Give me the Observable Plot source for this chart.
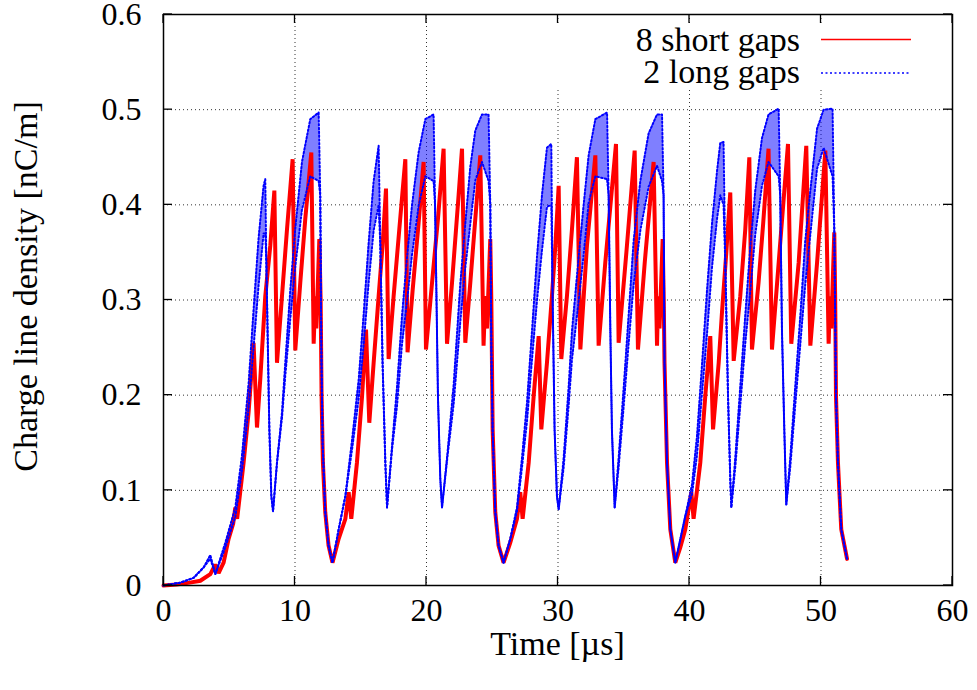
<!DOCTYPE html>
<html><head><meta charset="utf-8">
<script src="https://cdn.jsdelivr.net/npm/d3@7"></script>
<script src="https://cdn.jsdelivr.net/npm/@observablehq/plot@0.6"></script>
<style>body{margin:0;background:#fff} svg text{font-family:"Liberation Serif","Times New Roman",serif}</style>
</head><body><div id="chart"></div>
<script>
const xTicks = [0, 10, 20, 30, 40, 50, 60];
const yTicks = [0, 0.1, 0.2, 0.3, 0.4, 0.5, 0.6];
const yTickLabels = ["0", "0.1", "0.2", "0.3", "0.4", "0.5", "0.6"];
const seriesNames = ["8 short gaps", "2 long gaps"];
const xTitle = "Time [µs]";
const yTitle = "Charge line density [nC/m]";

// 8 short gaps (red)
const redT = [0,1.0,2.0,2.8,3.56,3.94,4.19,4.57,4.95,5.3,5.46,5.6,6.09,6.47,6.75,6.85,7.11,7.36,7.74,8.12,8.43,8.63,9.01,9.39,9.82,10.02,10.4,10.78,11.24,11.42,11.54,11.62,11.85,11.95,12.02,12.12,12.3,12.55,12.85,
13.32,13.83,14.08,14.28,14.71,15.1,15.4,15.65,15.98,16.36,16.66,16.92,17.12,17.5,17.93,18.39,18.56,18.95,19.4,19.78,19.96,20.42,20.87,21.3,21.56,21.94,22.44,22.7,22.95,23.33,23.71,24.09,24.34,24.47,24.6,24.85,24.93,25.03,25.23,25.48,25.86,
26.37,26.88,27.13,27.31,27.77,28.15,28.53,28.73,29.16,29.54,29.8,30.05,30.25,30.68,31.06,31.44,31.7,32.2,32.84,33.09,33.6,34.41,34.61,35.2,35.83,36.08,36.6,37.27,37.53,37.62,37.72,37.96,38.04,38.1,38.29,38.54,38.92,
39.3,39.68,40.14,40.31,40.82,41.2,41.58,41.79,42.22,42.47,42.8,43.1,43.36,43.86,44.24,44.55,44.75,45.25,45.6,46.01,46.27,46.78,47.49,47.74,48.3,48.88,49.19,49.7,50.33,50.58,50.68,50.78,51.01,51.08,51.14,51.29,51.54,51.98];
const redV = [0,0.001,0.003,0.005,0.012,0.022,0.013,0.024,0.049,0.065,0.082,0.07,0.129,0.182,0.235,0.255,0.166,0.217,0.304,0.357,0.415,0.234,0.304,0.374,0.448,0.247,0.318,0.385,0.455,0.254,0.304,0.27,0.364,0.30,0.2,0.13,0.077,0.042,0.024,
0.049,0.07,0.098,0.07,0.129,0.199,0.269,0.171,0.234,0.304,0.357,0.417,0.238,0.304,0.374,0.448,0.245,0.311,0.381,0.445,0.248,0.318,0.385,0.459,0.254,0.318,0.41,0.459,0.255,0.318,0.385,0.452,0.252,0.304,0.27,0.364,0.30,0.164,0.077,0.042,0.024,
0.045,0.07,0.098,0.07,0.129,0.199,0.262,0.164,0.234,0.304,0.357,0.42,0.238,0.304,0.374,0.45,0.248,0.357,0.452,0.252,0.34,0.464,0.255,0.35,0.457,0.248,0.34,0.445,0.252,0.304,0.27,0.364,0.30,0.234,0.129,0.059,0.024,
0.04,0.059,0.098,0.07,0.129,0.199,0.262,0.164,0.234,0.287,0.35,0.413,0.236,0.304,0.374,0.45,0.248,0.318,0.38,0.459,0.248,0.339,0.464,0.254,0.339,0.462,0.252,0.339,0.457,0.254,0.304,0.27,0.371,0.30,0.199,0.129,0.059,0.028];

// 2 long gaps (blue): upper and lower edge of the oscillation band
const blueT = [0,1.28,2.29,3.05,3.56,3.94,4.7,5.46,5.97,6.47,6.85,7.23,7.61,7.74,7.82,8.05,8.2,8.33,8.63,9.01,9.26,9.64,10.02,10.53,11.16,11.8,11.92,12.0,12.1,12.3,12.55,12.85,
13.32,13.83,14.33,14.84,15.22,15.6,15.98,16.36,16.49,16.66,16.87,17.0,17.38,17.76,18.14,18.52,18.9,19.4,19.91,20.54,20.65,20.72,20.87,21.05,21.18,21.6,22.06,22.57,22.95,23.33,23.71,24.22,24.72,24.85,24.93,25.03,25.23,25.48,25.86,
26.37,26.88,27.26,27.64,28.02,28.4,28.78,29.16,29.49,29.59,29.74,29.92,30.05,30.43,30.81,31.06,31.57,31.95,32.33,32.84,33.73,33.85,33.98,34.1,34.31,34.61,35.0,35.37,35.75,36.26,36.89,37.53,37.91,38.03,38.1,38.29,38.54,38.92,
39.68,40.19,40.57,40.95,41.33,41.71,42.09,42.34,42.59,42.72,42.93,43.1,43.18,43.48,43.86,44.24,44.62,45.0,45.51,46.01,46.78,46.9,47.03,47.21,47.36,47.66,48.04,48.43,48.8,49.19,49.7,50.2,50.88,51.01,51.14,51.29,51.54,51.98];
const blueHi = [0,0.003,0.008,0.019,0.032,0.012,0.045,0.082,0.137,0.212,0.29,0.365,0.42,0.427,0.34,0.164,0.094,0.078,0.129,0.182,0.234,0.31,0.375,0.445,0.49,0.497,0.41,0.25,0.15,0.077,0.042,0.024,
0.059,0.094,0.152,0.216,0.285,0.36,0.425,0.462,0.357,0.234,0.129,0.082,0.147,0.209,0.284,0.345,0.40,0.455,0.49,0.495,0.40,0.339,0.199,0.112,0.082,0.14,0.21,0.317,0.38,0.44,0.478,0.495,0.495,0.40,0.25,0.164,0.077,0.042,0.024,
0.049,0.082,0.134,0.192,0.267,0.345,0.41,0.46,0.464,0.304,0.164,0.094,0.08,0.134,0.209,0.267,0.345,0.40,0.452,0.49,0.497,0.41,0.269,0.164,0.082,0.134,0.209,0.284,0.362,0.425,0.475,0.495,0.495,0.41,0.234,0.129,0.059,0.024,
0.073,0.106,0.157,0.232,0.31,0.38,0.435,0.465,0.466,0.339,0.199,0.112,0.082,0.134,0.209,0.284,0.355,0.415,0.47,0.495,0.501,0.41,0.269,0.164,0.085,0.134,0.209,0.284,0.362,0.415,0.48,0.50,0.501,0.374,0.199,0.129,0.059,0.028];
const blueLo = [0,0.003,0.008,0.019,0.028,0.012,0.04,0.072,0.121,0.186,0.25,0.315,0.37,0.37,0.34,0.164,0.094,0.078,0.129,0.176,0.22,0.28,0.335,0.395,0.43,0.425,0.41,0.25,0.15,0.077,0.042,0.024,
0.059,0.094,0.142,0.196,0.253,0.318,0.373,0.40,0.357,0.234,0.129,0.082,0.143,0.189,0.254,0.299,0.348,0.399,0.43,0.425,0.40,0.339,0.199,0.112,0.082,0.136,0.19,0.277,0.334,0.38,0.426,0.445,0.425,0.40,0.25,0.164,0.077,0.042,0.024,
0.049,0.078,0.124,0.172,0.237,0.299,0.352,0.398,0.40,0.304,0.164,0.094,0.08,0.124,0.189,0.237,0.299,0.348,0.402,0.43,0.427,0.41,0.269,0.164,0.082,0.124,0.189,0.254,0.316,0.373,0.419,0.441,0.425,0.41,0.234,0.129,0.059,0.024,
0.073,0.096,0.137,0.202,0.264,0.334,0.385,0.41,0.40,0.339,0.199,0.112,0.082,0.124,0.189,0.254,0.309,0.369,0.42,0.445,0.43,0.41,0.269,0.164,0.085,0.124,0.189,0.254,0.316,0.369,0.438,0.46,0.43,0.374,0.199,0.129,0.059,0.028];

const red = redT.map((t, i) => ({t, v: redV[i]}));
const blue = blueT.map((t, i) => ({t, hi: blueHi[i], lo: blueLo[i]}));

const FONT = "'Liberation Serif', 'Times New Roman', serif";
const chart = Plot.plot({
  width: 977, height: 690,
  marginLeft: 163, marginRight: 25, marginTop: 14, marginBottom: 105,
  style: {fontFamily: FONT, background: "white", color: "black"},
  x: {domain: [0, 60]},
  y: {domain: [0, 0.6]},
  marks: [
    Plot.gridX(xTicks.slice(1, -1), {stroke: "#333", strokeOpacity: 1, strokeWidth: 1, strokeDasharray: "1,3"}),
    Plot.gridY(yTicks.slice(1, -1), {stroke: "#333", strokeOpacity: 1, strokeWidth: 1, strokeDasharray: "1,3"}),
    Plot.areaY(blue, {x: "t", y1: "lo", y2: "hi", fill: "#0000ff", fillOpacity: 0.5, curve: "linear"}),
    Plot.line(red, {x: "t", y: "v", stroke: "#ff0000", strokeWidth: 4, strokeLinejoin: "miter", strokeMiterlimit: 2}),
    Plot.line(blue, {x: "t", y: "hi", stroke: "#0000ff", strokeWidth: 2, strokeDasharray: "1.6,2.2"}),
    Plot.line(blue, {x: "t", y: "lo", stroke: "#0000ff", strokeWidth: 2, strokeDasharray: "1.6,2.2"}),
    Plot.axisX(xTicks, {tickSize: 0, tickPadding: 13, fontSize: 32, label: null, fontFamily: FONT}),
    Plot.axisY(yTicks, {tickSize: 0, tickPadding: 22, fontSize: 32, label: null, fontFamily: FONT,
      tickFormat: d => yTickLabels[yTicks.indexOf(d)]}),
    Plot.frame({stroke: "#000", strokeWidth: 1.5})
  ]
});
document.getElementById("chart").appendChild(chart);

const svg = d3.select(chart);
const sx = chart.scale("x"), sy = chart.scale("y");
const x0 = sx.apply(0), x1 = sx.apply(60), y0 = sy.apply(0), y1 = sy.apply(0.6);

// legend (opaque key box)
const g = svg.append("g").attr("font-size", 34);
g.append("rect").attr("x", x1 - 408).attr("y", y1 + 10).attr("width", 404).attr("height", 66).attr("fill", "white");
const rows = [{name: seriesNames[0], color: "#ff0000", dash: null, base: y1 + 37, ly: y1 + 25.5},
              {name: seriesNames[1], color: "#0000ff", dash: "2,2.5", base: y1 + 69, ly: y1 + 59}];
rows.forEach(r => {
  g.append("text").attr("x", x1 - 152).attr("y", r.base).attr("text-anchor", "end").text(r.name);
  g.append("line").attr("x1", x1 - 131).attr("x2", x1 - 41).attr("y1", r.ly).attr("y2", r.ly)
    .attr("stroke", r.color).attr("stroke-width", 1.5).attr("stroke-dasharray", r.dash);
});

// inward ticks, mirrored
const tg = svg.append("g").attr("stroke", "#000").attr("stroke-width", 1.3);
xTicks.forEach(t => {
  const x = sx.apply(t);
  tg.append("line").attr("x1", x).attr("x2", x).attr("y1", y0).attr("y2", y0 - 9);
  tg.append("line").attr("x1", x).attr("x2", x).attr("y1", y1).attr("y2", y1 + 9);
});
yTicks.forEach(v => {
  const y = sy.apply(v);
  tg.append("line").attr("x1", x0).attr("x2", x0 + 9).attr("y1", y).attr("y2", y);
  tg.append("line").attr("x1", x1).attr("x2", x1 - 9).attr("y1", y).attr("y2", y);
});

// axis titles
svg.append("text").attr("transform", `translate(37,${(y0 + y1) / 2 - 13}) rotate(-90)`)
  .attr("text-anchor", "middle").attr("font-size", 34).text(yTitle);
svg.append("text").attr("x", (x0 + x1) / 2).attr("y", 655)
  .attr("text-anchor", "middle").attr("font-size", 34).text(xTitle);
svg.selectAll("text").attr("font-family", FONT).style("font-family", FONT);
</script>
</body></html>
